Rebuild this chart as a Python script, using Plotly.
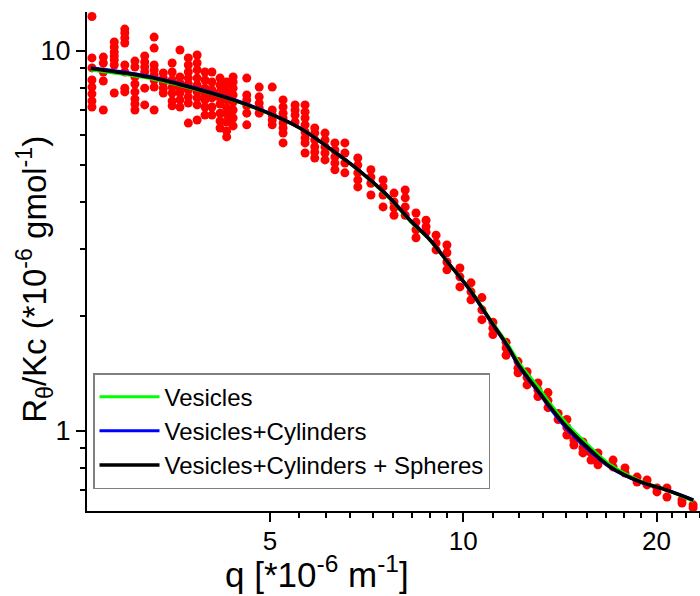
import plotly.graph_objects as go

# ---- measured data: q columns and the R/Kc values read in each column ----
q_cols = [2.64, 2.75, 2.86, 2.97, 3.08, 3.19, 3.30, 3.41, 3.52, 3.62, 3.73, 3.85,
          3.96, 4.06, 4.18, 4.28, 4.38, 4.60, 4.81, 5.04, 5.24, 5.47, 5.67, 5.87,
          6.09, 6.31, 6.54, 6.85, 7.18, 7.50, 7.80, 8.12, 8.44, 8.75, 9.07, 9.43,
          9.88, 10.28, 10.69, 11.12, 11.66, 12.17, 12.57, 13.07, 13.55, 14.05, 14.50,
          14.87, 15.36, 15.81, 16.21, 17.11, 17.86, 18.65, 19.33, 20.03, 20.76, 21.91, 22.80]
r_cols = [
    [12.3, 9.57, 9.01, 8.37, 8.02, 7.70, 7.37, 7.11],
    [9.62, 9.28, 8.79, 8.32, 6.98],
    [10.54, 10.23, 9.92, 9.68, 9.45, 9.17, 7.74],
    [11.40, 11.13, 10.80, 10.48, 9.17, 8.79, 7.97, 7.79],
    [9.39, 9.06, 8.53, 8.17, 7.79, 7.47, 7.24, 6.98],
    [9.68, 9.34, 9.06, 8.79, 7.97, 7.20],
    [10.86, 10.16, 9.17, 8.90, 8.63, 8.37, 8.02, 6.98],
    [8.74, 8.47, 8.22, 7.97, 7.74],
    [9.28, 8.79, 8.37, 8.02, 7.74, 7.37, 7.16],
    [10.04, 8.53, 8.22, 7.97, 7.74, 7.42, 7.11],
    [9.57, 9.17, 8.79, 8.47, 8.17, 7.88, 7.56, 7.28, 6.45],
    [9.74, 9.28, 8.90, 8.47, 8.12, 7.79, 7.51, 7.20, 6.57],
    [8.79, 8.37, 7.97, 7.65, 7.42, 7.11, 6.77],
    [8.79, 8.27, 7.88, 7.51, 7.11, 6.77],
    [8.47, 8.12, 7.79, 7.51, 7.24, 6.85, 6.53, 6.26],
    [8.27, 7.97, 7.70, 7.42, 7.07, 6.81, 6.49, 6.15, 5.93],
    [8.53, 8.27, 7.97, 7.65, 7.33, 6.98, 6.65, 6.34],
    [8.47, 7.65, 7.42, 7.16, 6.85, 6.38],
    [8.02, 7.56, 7.28, 7.07, 6.85],
    [8.02, 6.98, 6.77, 6.57, 6.38],
    [7.42, 7.11, 6.85, 6.65, 6.45, 6.26, 6.07, 5.72],
    [7.20, 6.98, 6.77, 6.49],
    [7.20, 6.90, 6.65, 6.38, 6.11, 5.89, 5.72, 5.38],
    [6.26, 6.07, 5.82, 5.58, 5.41, 5.22],
    [6.07, 5.82, 5.58, 5.38, 5.16],
    [5.72, 5.48, 5.25, 5.06, 4.86],
    [5.72, 5.38, 5.06, 4.77],
    [5.22, 5.00, 4.77, 4.57, 4.38],
    [4.86, 4.65, 4.48, 4.17],
    [4.57, 4.38, 4.17, 3.88],
    [4.22, 4.00, 3.86, 3.69],
    [4.30, 4.10, 3.88, 3.69],
    [3.74, 3.54, 3.38, 3.22],
    [3.58, 3.44, 3.33],
    [3.27, 3.12, 2.99],
    [3.08, 2.94, 2.78, 2.65],
    [2.68, 2.54, 2.39],
    [2.45, 2.32, 2.21],
    [2.24, 2.08, 1.96],
    [1.93, 1.86, 1.79],
    [1.71, 1.65, 1.58],
    [1.52, 1.46, 1.42],
    [1.43, 1.38, 1.32],
    [1.335, 1.28, 1.23],
    [1.26, 1.20, 1.15],
    [1.11, 1.07],
    [1.07, 1.02, 0.974],
    [0.945, 0.917],
    [0.934, 0.901, 0.874],
    [0.874, 0.837],
    [0.874, 0.837, 0.813],
    [0.837, 0.803],
    [0.798, 0.774],
    [0.755, 0.733],
    [0.742, 0.720],
    [0.707, 0.690],
    [0.707, 0.669],
    [0.657, 0.645],
    [0.638, 0.627],
]

# ---- fitted model curves ----
q_fit = [2.63, 3.25, 3.89, 4.38, 4.95, 5.57, 6.20, 6.66, 7.16, 7.69, 8.26, 8.87,
         9.53, 10.24, 11.0, 11.70, 12.25, 13.17, 13.65, 14.49, 15.57, 16.93, 18.85, 20.74, 22.82]
r_vesicles = [8.90, 8.45, 7.85, 7.40, 6.86, 6.25, 5.52, 5.05, 4.56, 4.07, 3.56, 3.17,
              2.73, 2.36, 1.97, 1.70, 1.50, 1.285, 1.180, 1.045, 0.925, 0.815, 0.738, 0.698, 0.652]
r_ves_cyl = [9.02, 8.56, 7.92, 7.45, 6.89, 6.26, 5.53, 5.06, 4.58, 4.10, 3.59, 3.19,
             2.73, 2.34, 1.95, 1.67, 1.46, 1.245, 1.145, 1.012, 0.898, 0.800, 0.732, 0.698, 0.658]
r_ves_cyl_sph = [8.98, 8.51, 7.88, 7.42, 6.87, 6.25, 5.52, 5.05, 4.57, 4.09, 3.58, 3.18,
                 2.73, 2.35, 1.96, 1.68, 1.474, 1.254, 1.157, 1.024, 0.908, 0.804, 0.734, 0.698, 0.657]

# ---- ticks ----
x_major = [5, 10, 20]
x_major_text = ["5", "10", "20"]
x_minor = [5.556, 6.111, 6.667, 7.222, 7.778, 8.333, 8.889, 9.444,
           11.11, 12.22, 13.33, 14.44, 15.56, 16.67, 17.78, 18.89,
           21.11, 22.22, 23.33]
y_major = [1, 10]
y_major_text = ["1", "10"]
y_minor = [0.7, 0.8, 0.9, 2, 3, 4, 5, 6, 7, 8, 9]

x_range = [0.4139, 1.3687]
y_range = [-0.2113, 1.1018]

q_pts = [q for q, rs in zip(q_cols, r_cols) for _ in rs]
r_pts = [r for rs in r_cols for r in rs]

FONT = "Liberation Sans, Arial, sans-serif"

fig = go.Figure()
fig.add_trace(go.Scatter(x=q_pts, y=r_pts, mode="markers",
                         marker=dict(color="#FF0000", size=9, line=dict(width=0)),
                         showlegend=False, hoverinfo="skip"))
fig.add_trace(go.Scatter(x=q_fit, y=r_vesicles, mode="lines", name="Vesicles",
                         line=dict(color="#00FF00", width=3, shape="spline")))
fig.add_trace(go.Scatter(x=q_fit, y=r_ves_cyl, mode="lines", name="Vesicles+Cylinders",
                         line=dict(color="#0000FF", width=3, shape="spline")))
fig.add_trace(go.Scatter(x=q_fit, y=r_ves_cyl_sph, mode="lines", name="Vesicles+Cylinders + Spheres",
                         line=dict(color="#000000", width=3.5, shape="spline")))

common_x = dict(type="log", range=x_range, tickmode="array", tickvals=x_major,
                showgrid=False, zeroline=False, showline=True, linewidth=2,
                linecolor="black", tickcolor="black", tickwidth=2)
common_y = dict(type="log", range=y_range, tickmode="array", tickvals=y_major,
                showgrid=False, zeroline=False, tickcolor="black", tickwidth=2)

fig.update_layout(
    width=700, height=596,
    margin=dict(l=87, r=0, t=12, b=85),
    plot_bgcolor="white", paper_bgcolor="white",
    font=dict(family=FONT, color="black"),
    xaxis=dict(**common_x, ticktext=x_major_text, ticks="outside", ticklen=9,
               ticklabelstandoff=-3,
               tickfont=dict(size=26, family=FONT, color="black"),
               minor=dict(tickmode="array", tickvals=x_minor, ticks="outside",
                          ticklen=5, tickwidth=2, tickcolor="black", showgrid=False)),
    xaxis2=dict(**common_x, overlaying="x", side="top", anchor="y", ticks="inside",
                ticklen=10, showticklabels=False,
                minor=dict(tickmode="array", tickvals=x_minor, ticks="inside",
                           ticklen=4, tickwidth=2, tickcolor="black", showgrid=False)),
    yaxis=dict(**common_y, ticktext=y_major_text, ticks="outside", ticklen=9,
               showline=True, linewidth=2, linecolor="black",
               tickfont=dict(size=27, family=FONT, color="black"),
               minor=dict(tickmode="array", tickvals=y_minor, ticks="outside",
                          ticklen=5, tickwidth=2, tickcolor="black", showgrid=False)),
    yaxis2=dict(**common_y, overlaying="y", side="right", anchor="x", ticks="inside",
                ticklen=4, showticklabels=False, showline=False),
    legend=dict(x=0.0098, y=0.2765, xanchor="left", yanchor="top",
                bordercolor="#7f7f7f", borderwidth=1.5, bgcolor="white",
                font=dict(size=24, family=FONT, color="black"),
                itemwidth=60, tracegroupgap=0),
    annotations=[
        dict(text="q [*10<sup>-6</sup> m<sup>-1</sup>]", xref="paper", yref="paper",
             x=0.3744, y=-0.122, xanchor="center", yanchor="middle", showarrow=False,
             font=dict(size=35, family=FONT, color="black")),
        dict(text="R<sub>θ</sub>/Kc (*10<sup>-6</sup> gmol<sup>-1</sup>)", xref="paper",
             yref="paper", x=-0.086, y=0.464, xanchor="center", yanchor="middle",
             textangle=-90, showarrow=False,
             font=dict(size=33, family=FONT, color="black")),
    ],
)

fig.write_html("out.html", config={"displayModeBar": False},
               post_script="document.body.style.margin='0px';document.body.style.overflow='hidden';")
